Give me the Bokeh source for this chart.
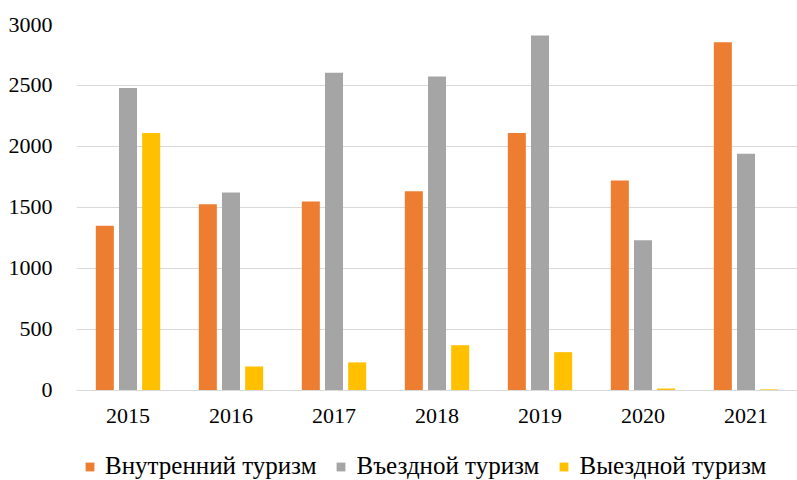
from bokeh.plotting import figure
from bokeh.models import FactorRange, Range1d, Legend, LegendItem, ColumnDataSource, FixedTicker
from bokeh.transform import dodge
from bokeh.embed import file_html
from bokeh.resources import INLINE

years = ["2015", "2016", "2017", "2018", "2019", "2020", "2021"]
domestic = [1350, 1527, 1550, 1634, 2110, 1721, 2855]
inbound = [2480, 1623, 2604, 2574, 2910, 1232, 1940]
outbound = [2110, 197, 230, 371, 314, 16, 9]
series_names = ["Внутренний туризм", "Въездной туризм", "Выездной туризм"]
colors = ["#ED7D31", "#A5A5A5", "#FFC000"]
y_ticks = [0, 500, 1000, 1500, 2000, 2500, 3000]

source = ColumnDataSource(dict(year=years, domestic=domestic, inbound=inbound, outbound=outbound))

FONT = "Liberation Serif"

# frame spans the legend area too; the x axis is pinned at y = 0
p = figure(x_range=FactorRange(*years, range_padding=0), y_range=Range1d(-738, 3000),
           width=797, height=480, output_backend="svg", toolbar_location=None,
           min_border_left=76, min_border_right=0, min_border_top=24, min_border_bottom=0)

offsets = [-0.225, 0.0, 0.225]
fields = ["domestic", "inbound", "outbound"]
renderers = []
for f, off, c in zip(fields, offsets, colors):
    r = p.vbar(x=dodge("year", off, range=p.x_range), top=f, bottom=0, width=0.175, source=source,
               fill_color=c, line_color=None)
    renderers.append(r)

p.outline_line_color = None
p.xgrid.grid_line_color = None
p.ygrid.ticker = FixedTicker(ticks=y_ticks)
p.ygrid.grid_line_color = "#D9D9D9"
p.ygrid.grid_line_width = 1
p.yaxis.ticker = FixedTicker(ticks=y_ticks)
p.yaxis.axis_line_color = None
p.yaxis.major_tick_line_color = None
p.yaxis.minor_tick_line_color = None
p.yaxis.major_label_standoff = 18
p.yaxis.major_label_text_font = FONT
p.yaxis.major_label_text_font_size = "22px"
p.yaxis.major_label_text_color = "#000000"

p.xaxis.fixed_location = 0
p.xaxis.axis_line_color = "#D9D9D9"
p.xaxis.axis_line_width = 1
p.xaxis.major_tick_line_color = None
p.xaxis.minor_tick_line_color = None
p.xaxis.major_label_standoff = 13
p.xaxis.major_label_text_font = FONT
p.xaxis.major_label_text_font_size = "22px"
p.xaxis.major_label_text_color = "#000000"

items = [LegendItem(label=n, renderers=[r]) for n, r in zip(series_names, renderers)]
legend = Legend(items=items, orientation="horizontal", location=(8, 0),
                glyph_width=11, glyph_height=11, label_standoff=10, spacing=19,
                padding=0, margin=0, border_line_alpha=0, background_fill_alpha=0,
                label_text_font=FONT, label_text_font_size="25px", label_text_color="#000000")
p.add_layout(legend, "center")

open("out.html", "w").write(file_html(p, INLINE))
